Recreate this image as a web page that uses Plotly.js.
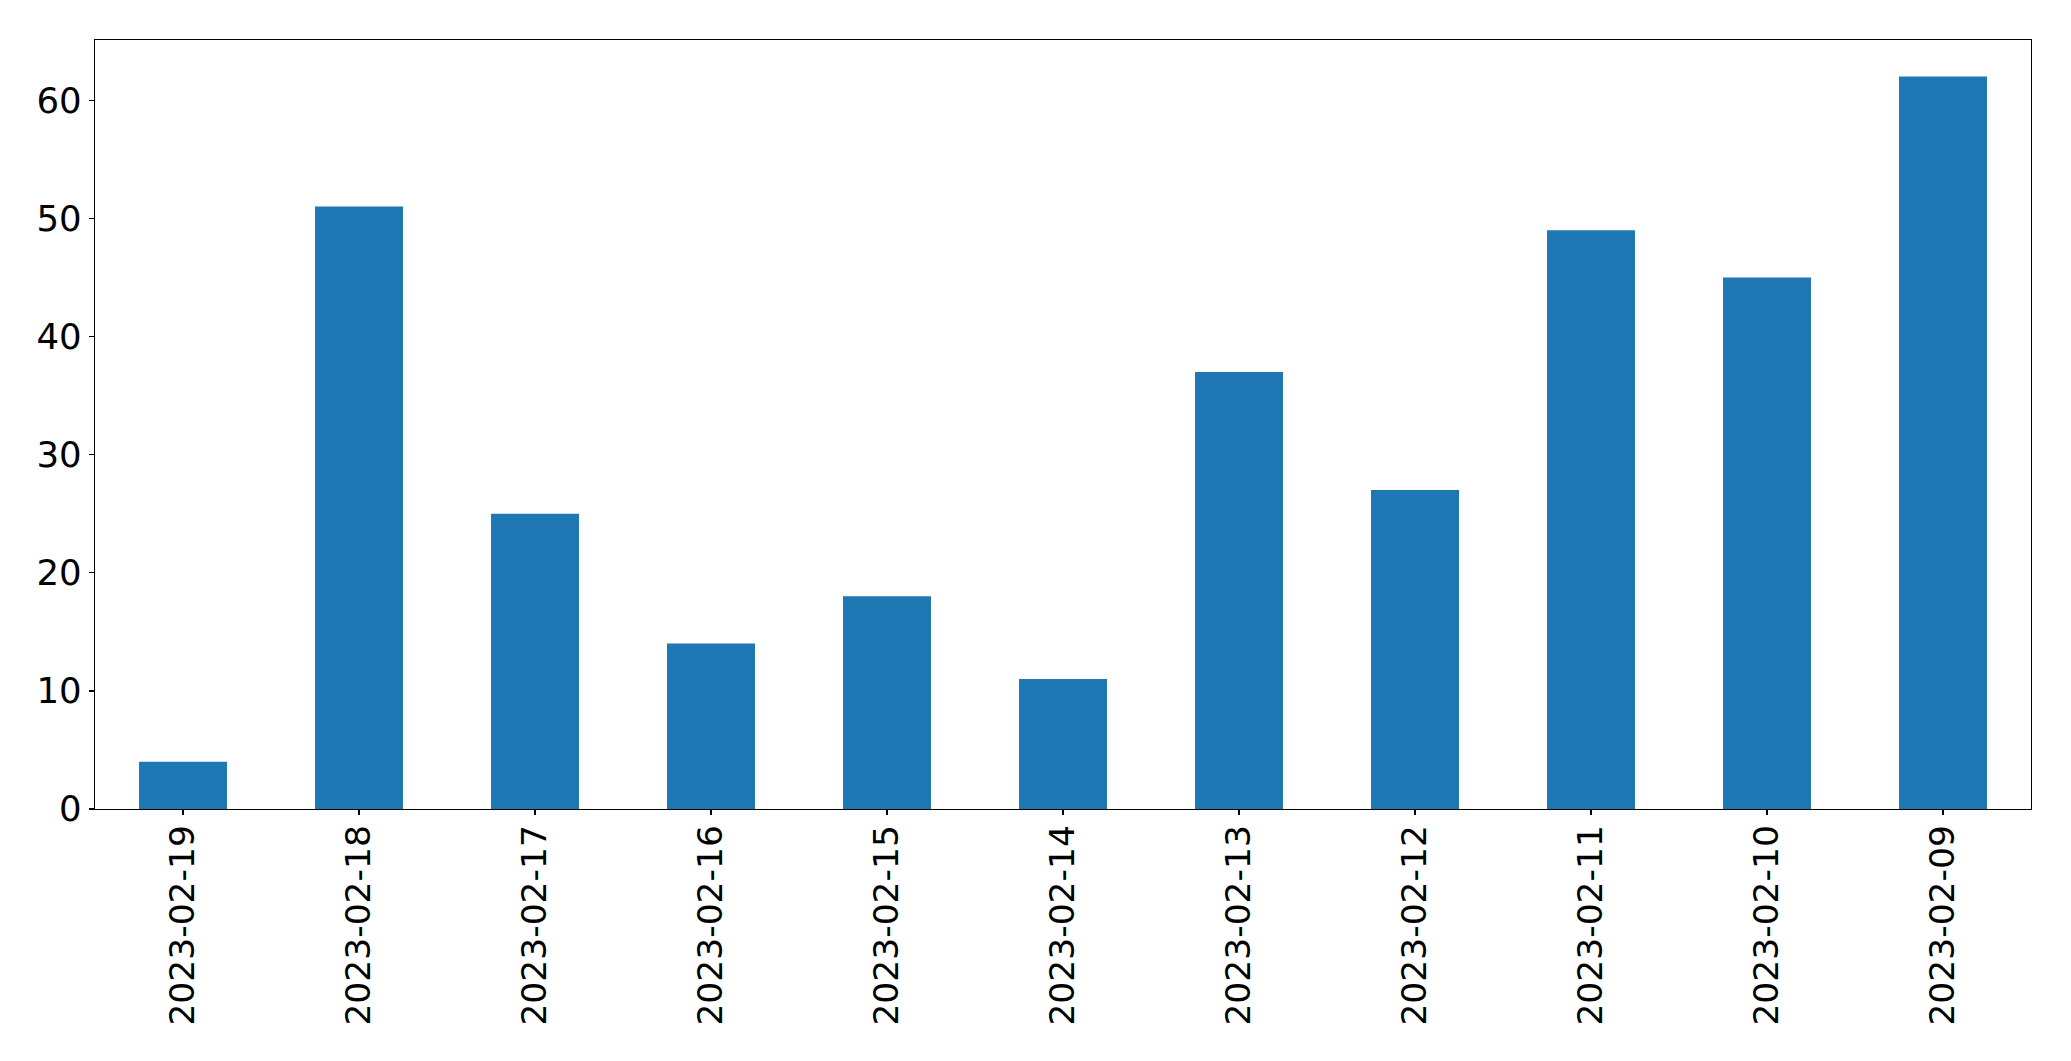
<!DOCTYPE html>
<html>
<head>
<meta charset="utf-8">
<script src="https://cdn.plot.ly/plotly-3.0.1.min.js"></script>
<style>html,body{margin:0;padding:0;background:#fff;}#chart{width:2071px;height:1061px;}</style>
</head>
<body>
<div id="chart"></div>
<script>
const categories = ["2023-02-19","2023-02-18","2023-02-17","2023-02-16","2023-02-15","2023-02-14","2023-02-13","2023-02-12","2023-02-11","2023-02-10","2023-02-09"];
const values = [4, 51, 25, 14, 18, 11, 37, 27, 49, 45, 62];
const yTicks = [0, 10, 20, 30, 40, 50, 60];

const trace = {
  type: 'bar',
  x: categories,
  y: values,
  width: 0.5,
  marker: {color: '#1f77b4', line: {width: 0}},
  hoverinfo: 'x+y'
};

const layout = {
  width: 2071,
  height: 1061,
  margin: {l: 94.5, r: 39.5, t: 39.5, b: 252, pad: 0},
  paper_bgcolor: '#ffffff',
  plot_bgcolor: '#ffffff',
  showlegend: false,
  font: {family: 'DejaVu Sans', size: 34.5, color: '#000000'},
  xaxis: {
    type: 'category',
    range: [-0.5, 10.5],
    tickangle: -90,
    ticks: 'outside',
    ticklen: 5,
    tickwidth: 1.3,
    tickcolor: '#000',
    ticklabelstandoff: -4,
    showgrid: false,
    zeroline: false,
    showline: true,
    linecolor: '#000',
    linewidth: 1.3,
    mirror: true,
    tickfont: {family: 'DejaVu Sans', size: 34.5, color: '#000'},
    automargin: false
  },
  yaxis: {
    range: [0, 65.1],
    tickvals: yTicks,
    ticktext: yTicks.map(String),
    ticks: 'outside',
    ticklen: 5,
    tickwidth: 1.3,
    tickcolor: '#000',
    showgrid: false,
    zeroline: false,
    showline: true,
    linecolor: '#000',
    linewidth: 1.3,
    mirror: true,
    tickfont: {family: 'DejaVu Sans', size: 35.5, color: '#000'},
    automargin: false
  }
};

Plotly.newPlot('chart', [trace], layout, {displayModeBar: false, staticPlot: true});
</script>
</body>
</html>
